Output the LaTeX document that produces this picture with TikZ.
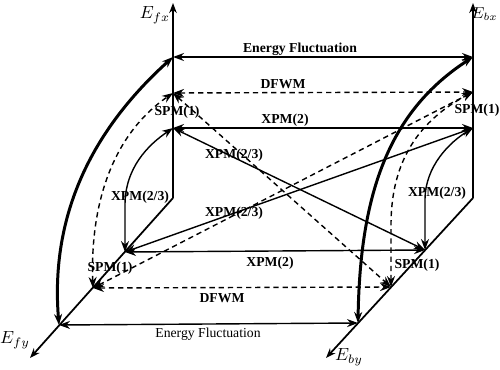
\documentclass[tikz,border=0pt]{standalone}
\usepackage{fontspec}
\setmainfont{Liberation Serif}
\usetikzlibrary{arrows.meta}

\begin{document}
\begin{tikzpicture}[
    x=0.2mm, y=-0.2mm,
    axis/.style={-{Stealth[length=2mm,width=1.5mm]}, line width=1pt},
    link/.style={{Stealth[length=2.2mm,width=1.6mm]}-{Stealth[length=2.2mm,width=1.6mm]}, line width=0.8pt},
    dlink/.style={link, dash pattern=on 3pt off 2.2pt},
    heavy/.style={link, line width=1.7pt},
    lbl/.style={font=\fontsize{7.8}{9}\selectfont\bfseries, inner sep=0.5pt},
    axlbl/.style={font=\fontsize{10}{12}\selectfont, inner sep=0pt}
  ]
  \useasboundingbox (0,0) rectangle (500,370);

  \coordinate (of) at (173,198);
  \coordinate (ob) at (473,198);
  \coordinate (fxtip) at (173,3);
  \coordinate (fytip) at (30,358);
  \coordinate (bxtip) at (473,3);
  \coordinate (bytip) at (326,358);

  \coordinate (ftE) at (173,57);
  \coordinate (ftD) at (173,93);
  \coordinate (ftX) at (173,128);
  \coordinate (fbX) at (125,252);
  \coordinate (fbD) at (93,288);
  \coordinate (fbE) at (59,325);
  \coordinate (btE) at (473,57);
  \coordinate (btD) at (473,92);
  \coordinate (btX) at (473,128);
  \coordinate (bbX) at (425,250);
  \coordinate (bbD) at (391,287);
  \coordinate (bbE) at (358,323);

  \draw[axis] (of) -- (fxtip);
  \draw[axis] (of) -- (fytip);
  \draw[axis] (ob) -- (bxtip);
  \draw[axis] (ob) -- (bytip);

  \node[axlbl] (lfx) at (155,15) {$E_{fx}$};
  \node[axlbl] (lfy) at (15,340) {$E_{fy}$};
  \node[axlbl, anchor=east, font=\fontsize{9}{11}\selectfont] (lbx) at (498,14) {$E_{bx}$};
  \node[axlbl] (lby) at (349,357) {$E_{by}$};

  \draw[link] (ftE) -- (btE);
  \draw[dlink] (ftD) -- (btD);
  \draw[link] (ftX) -- (btX);
  \draw[link] (fbX) -- (bbX);
  \draw[dlink] (fbD) -- (bbD);
  \draw[link] (fbE) -- (bbE);

  \draw[link] (ftX) -- (bbX);
  \draw[link] (fbX) -- (btX);
  \draw[dlink] (ftD) -- (bbD);
  \draw[dlink] (fbD) -- (btD);

  \draw[heavy] (fbE) .. controls (50,215) and (92,130) .. (ftE);
  \draw[dlink] (fbD) .. controls (90,205) and (112,135) .. (ftD);
  \draw[link] (fbX) -- (125,205) .. controls (125,168) and (148,145) .. (ftX);
  \draw[heavy] (bbE) .. controls (360,195) and (388,112) .. (btE);
  \draw[dlink] (bbD) -- (391,225) .. controls (391,160) and (420,120) .. (btD);
  \draw[link] (bbX) -- (425,200) .. controls (425,166) and (450,142) .. (btX);

  \node[lbl] (eTop) at (300,49) {Energy Fluctuation};
  \node[lbl] (dTop) at (283,84) {DFWM};
  \node[lbl] (xTop) at (285,120) {XPM(2)};
  \node[lbl] (sTopL) at (177,112) {SPM(1)};
  \node[lbl] (sTopR) at (477,110) {SPM(1)};
  \node[lbl] (xUp) at (234,155) {XPM(2/3)};
  \node[lbl] (xLeft) at (140,197) {XPM(2/3)};
  \node[lbl] (xLow) at (234,213) {XPM(2/3)};
  \node[lbl] (xRight) at (437,193) {XPM(2/3)};
  \node[lbl] (sBotL) at (110,268) {SPM(1)};
  \node[lbl] (sBotR) at (417,265) {SPM(1)};
  \node[lbl] (xBot) at (270,263) {XPM(2)};
  \node[lbl] (dBot) at (222,298) {DFWM};
  \node[lbl, font=\fontsize{7.8}{9}\selectfont] (eBot) at (208,334) {Energy Fluctuation};
\end{tikzpicture}
\end{document}
